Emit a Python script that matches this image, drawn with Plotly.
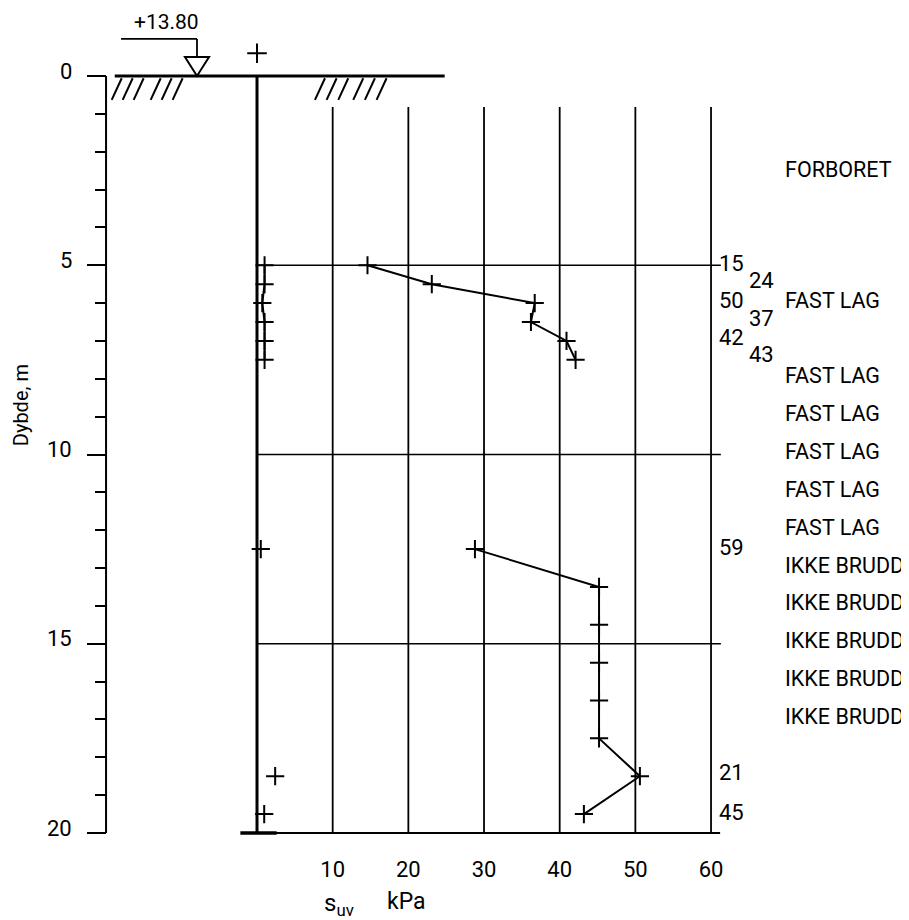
import plotly.graph_objects as go

# ---------------- data ----------------
depth_peak_1 = [5.0, 5.5, 6.0, 6.5, 7.0, 7.5]
su_peak_1 = [14.6, 23.1, 36.7, 36.2, 40.9, 42.1]
depth_peak_2 = [12.5, 13.5, 14.5, 15.5, 16.5, 17.5, 18.5, 19.5]
su_peak_2 = [28.8, 45.2, 45.2, 45.2, 45.2, 45.2, 50.6, 43.2]

depth_rem_1 = [5.0, 5.5, 6.0, 6.5, 7.0, 7.5]
su_rem_1 = [1.0, 1.0, 0.7, 1.0, 1.0, 1.0]
depth_rem_2 = [12.5, 18.5, 19.5]
su_rem_2 = [0.5, 2.4, 0.95]

start_depth = [-0.6]
start_x = [0.0]

sens_labels = ["15", "24", "50", "37", "42", "43", "59", "21", "45"]
sens_depth = [4.95, 5.4, 5.92, 6.4, 6.9, 7.36, 12.45, 18.4, 19.45]
sens_col = [0, 1, 0, 1, 0, 1, 0, 0, 0]

remark_labels = ["FORBORET", "FAST LAG", "FAST LAG", "FAST LAG", "FAST LAG", "FAST LAG",
                 "FAST LAG", "IKKE BRUDD", "IKKE BRUDD", "IKKE BRUDD", "IKKE BRUDD", "IKKE BRUDD"]
remark_depth = [2.46, 5.92, 7.92, 8.92, 9.92, 10.92, 11.92, 12.92, 13.92, 14.92, 15.92, 16.92]

x_ticks = [10, 20, 30, 40, 50, 60]
y_major = [0, 5, 10, 15, 20]
y_minor = [1, 2, 3, 4, 6, 7, 8, 9, 11, 12, 13, 14, 16, 17, 18, 19]
h_grid = [5, 10, 15]

water_level_text = "+13.80"

FONT = "Roboto, Lato, sans-serif"
K = "black"
AXIS_X = -19.95  # kPa position of the depth axis

fig = go.Figure()

mk = dict(symbol="cross-thin", size=13, color=K, line=dict(color=K, width=2))

fig.add_trace(go.Scatter(x=su_peak_1, y=depth_peak_1, mode="lines+markers",
                         line=dict(color=K, width=2), marker=mk, showlegend=False))
fig.add_trace(go.Scatter(x=su_peak_2, y=depth_peak_2, mode="lines+markers",
                         line=dict(color=K, width=2), marker=mk, showlegend=False))
fig.add_trace(go.Scatter(x=su_rem_1, y=depth_rem_1, mode="lines+markers",
                         line=dict(color=K, width=2), marker=mk, showlegend=False))
fig.add_trace(go.Scatter(x=su_rem_2, y=depth_rem_2, mode="markers",
                         marker=mk, showlegend=False))
fig.add_trace(go.Scatter(x=start_x, y=start_depth, mode="markers",
                         marker=dict(symbol="cross-thin", size=14, color=K, line=dict(color=K, width=2)),
                         showlegend=False))

shapes = []
def seg(x0, y0, x1, y1, w=2):
    shapes.append(dict(type="line", x0=x0, y0=y0, x1=x1, y1=y1, xref="x", yref="y",
                       line=dict(color=K, width=w), layer="below"))

# vertical grid lines
for xv in x_ticks:
    seg(xv, 0.82, xv, 20, 1.8)
# horizontal grid lines
for yv in h_grid:
    seg(0, yv, 61.3, yv, 1.6)
# bottom line
seg(0, 20, 61.2, 20, 2)
seg(-2.2, 20, 2.6, 20, 3.5)
# main sounding line
seg(0, 0, 0, 20, 3)
# ground line
seg(-18.8, 0, 24.8, 0, 3)
# hatching
for xb in [-19.2, -17.75, -16.3, -14.05, -12.6, -11.15, 7.66, 9.2, 10.74, 12.72, 14.26, 15.8]:
    seg(xb, 0.63, xb + 1.32, 0.06, 2)
# depth axis line
seg(AXIS_X, 0, AXIS_X, 20, 2)
# water level symbol
seg(-17.97, -0.98, -7.93, -0.98, 1.8)
seg(-7.93, -0.98, -7.93, -0.5, 1.8)
shapes.append(dict(type="path", xref="x", yref="y",
                   path="M -9.52,-0.5 L -6.34,-0.5 L -7.93,0 Z",
                   line=dict(color=K, width=2), fillcolor="white"))

annotations = []
for t, d, c in zip(sens_labels, sens_depth, sens_col):
    annotations.append(dict(x=60.8 if c == 0 else 64.7, y=d, text=t, showarrow=False,
                            xanchor="left", yanchor="middle",
                            font=dict(family=FONT, size=22, color=K)))
for t, d in zip(remark_labels, remark_depth):
    annotations.append(dict(x=69.5, y=d, text=t, showarrow=False,
                            xanchor="left", yanchor="middle",
                            font=dict(family=FONT, size=21.5, color=K)))
for v in y_major:
    annotations.append(dict(x=AXIS_X, y=v, text=str(v), showarrow=False,
                            xanchor="right", yanchor="middle", xshift=-32, yshift=5,
                            font=dict(family=FONT, size=22, color=K)))
annotations.append(dict(x=-11.9, y=-1.43, text=water_level_text, showarrow=False,
                        xanchor="center", yanchor="middle",
                        font=dict(family=FONT, size=21, color=K)))
annotations.append(dict(x=-31.2, y=8.7, text="Dybde, m", textangle=-90, showarrow=False,
                        xanchor="center", yanchor="middle",
                        font=dict(family=FONT, size=20, color=K)))
annotations.append(dict(x=8.6, y=21.88, text="s<sub>uv</sub>", showarrow=False,
                        xanchor="left", yanchor="middle",
                        font=dict(family=FONT, size=24, color=K)))
annotations.append(dict(x=19.7, y=21.82, text="kPa", showarrow=False,
                        xanchor="center", yanchor="middle",
                        font=dict(family=FONT, size=23, color=K)))

fig.update_layout(
    width=909, height=920,
    margin=dict(l=0, r=0, t=0, b=0),
    paper_bgcolor="white", plot_bgcolor="white",
    shapes=shapes, annotations=annotations,
    showlegend=False,
    xaxis=dict(range=[-32.907, 87.22], anchor="free", position=95/920,
               tickmode="array", tickvals=x_ticks, ticktext=[str(v) for v in x_ticks],
               ticks="outside", ticklen=17, tickcolor="rgba(0,0,0,0)",
               showgrid=False, zeroline=False, showline=False,
               tickfont=dict(family=FONT, size=22, color=K)),
    yaxis=dict(range=[22.51, -1.7966], anchor="free", position=98/909,
               tickmode="array", tickvals=y_major, showticklabels=False,
               ticks="outside", ticklen=19, tickwidth=2, tickcolor=K,
               minor=dict(tickmode="array", tickvals=y_minor, ticks="outside",
                          ticklen=11, tickwidth=2, tickcolor=K, showgrid=False),
               showgrid=False, zeroline=False, showline=False),
)

fig.write_html("out.html")
